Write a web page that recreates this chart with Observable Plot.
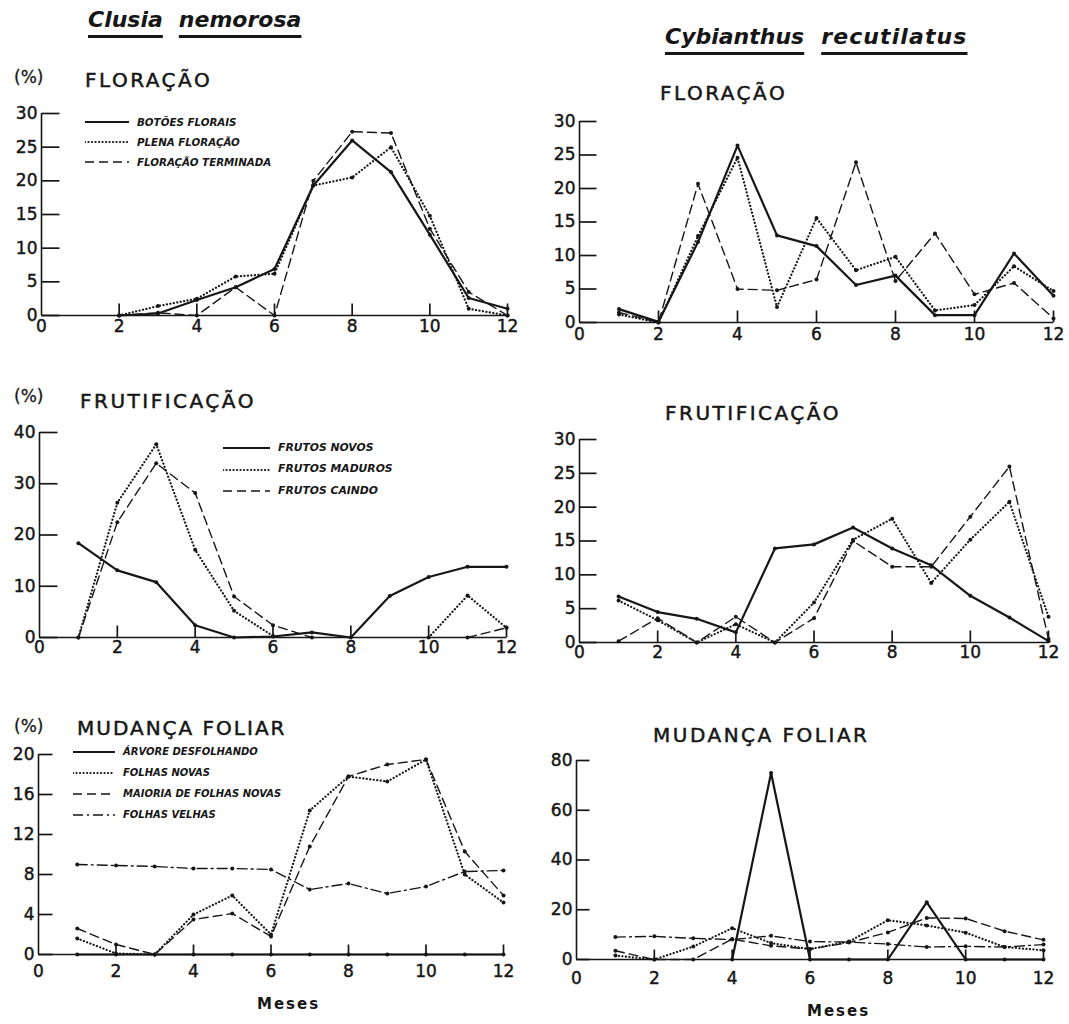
<!DOCTYPE html>
<html><head><meta charset="utf-8">
<script src="https://cdn.jsdelivr.net/npm/d3@7"></script>
<script src="https://cdn.jsdelivr.net/npm/@observablehq/plot@0.6"></script>
<style>
body{margin:0;background:#fff;}
#root{position:relative;width:1069px;height:1024px;overflow:hidden;font-family:"DejaVu Sans",sans-serif;color:#161616;}
.abs{position:absolute;white-space:nowrap;line-height:1;}
.species{font-weight:bold;font-style:italic;font-size:22px;}
.species span{text-decoration:underline;text-decoration-thickness:3px;text-underline-offset:8px;display:inline-block;}
.ptitle{font-size:20px;letter-spacing:2.5px;-webkit-text-stroke:0.5px #161616;}
.pct{font-size:17px;-webkit-text-stroke:0.3px #161616;}
.leg{font-weight:bold;font-style:italic;font-size:10px;}
.meses{font-weight:bold;font-size:15px;letter-spacing:2px;}
svg text{stroke:#161616;stroke-width:0.45px;}
</style></head><body><div id="root"></div>
<script>
// ---------- data ----------
const months = [1,2,3,4,5,6,7,8,9,10,11,12];
const xTickLabels = [0,2,4,6,8,10,12];
const xTickMarks = [2,4,6,8,10,12];

// Clusia nemorosa — Floração
const clFlorBotoes    = [null, 0, 0.3, 2.3, 4.2, 6.9, 19.3, 26.0, 21.3, 12.0, 2.6, 1.0];
const clFlorPlena     = [null, 0, 1.4, 2.5, 5.8, 6.2, 19.3, 20.5, 25.0, 14.8, 1.0, 0];
const clFlorTerminada = [null, 0, 0.4, 0, 4.2, 0, 20.0, 27.3, 27.1, 12.9, 3.5, 0];
// Cybianthus recutilatus — Floração
const cyFlorBotoes    = [2.0, 0.1, 12.0, 26.4, 13.0, 11.4, 5.6, 7.0, 1.1, 1.1, 10.3, 4.0];
const cyFlorPlena     = [1.2, 0, 12.9, 24.6, 2.3, 15.6, 7.8, 9.8, 1.8, 2.6, 8.4, 4.7];
const cyFlorTerminada = [1.5, 0, 20.7, 5.0, 4.8, 6.4, 23.9, 6.2, 13.3, 4.2, 5.9, 0.6];
// Clusia — Frutificação
const clFrutNovos    = [18.4, 13.1, 10.8, 2.4, 0, 0.2, 1.0, 0, 8.1, 11.8, 13.8, 13.8];
const clFrutMaduros  = [0, 26.3, 37.7, 17.1, 5.2, 0.3, null, null, null, 0, 8.2, 1.9];
const clFrutCaindo   = [0, 22.5, 34.0, 28.2, 8.0, 2.4, 0, null, null, null, 0, 1.9];
// Cybianthus — Frutificação
const cyFrutNovos    = [6.8, 4.5, 3.5, 1.5, 13.9, 14.5, 17.0, 13.9, 11.4, 6.9, 3.7, 0.2];
const cyFrutMaduros  = [6.2, 3.3, 0, 2.7, 0, 5.9, 15.2, 18.3, 8.8, 15.2, 20.8, 3.8];
const cyFrutCaindo   = [0.2, 3.6, 0, 3.8, 0, 3.6, 15.0, 11.2, 11.2, 18.6, 26.0, 0.5];
// Clusia — Mudança foliar
const clFolDesfol  = [0, 0, 0, 0, 0, 0, 0, 0, 0, 0, 0, 0];
const clFolNovas   = [1.6, 0.1, 0, 4.0, 5.9, 2.0, 14.4, 17.8, 17.3, 19.5, 8.0, 5.2];
const clFolMaioria = [2.6, 1.0, 0, 3.5, 4.1, 1.8, 10.8, 17.8, 19.0, 19.5, 10.3, 5.9];
const clFolVelhas  = [9.0, 8.9, 8.8, 8.6, 8.6, 8.5, 6.5, 7.1, 6.1, 6.8, 8.3, 8.4];
// Cybianthus — Mudança foliar
const cyFolDesfol  = [null, null, null, 0, 75, 0, 0, 0, 23, 0, 0, 0];
const cyFolNovas   = [1.6, 0, 5.2, 12.6, 6.6, 4.2, 7.2, 15.8, 13.7, 10.8, 5.0, 3.7];
const cyFolMaioria = [3.5, 0, 0, 8.2, 5.5, 4.2, 6.8, 10.9, 16.7, 16.5, 11.4, 7.9];
const cyFolVelhas  = [9.0, 9.3, 8.5, 8.0, 9.5, 7.2, 7.0, 6.2, 5.0, 5.3, 5.0, 6.0];

// tick values
const yTicks30 = [0,5,10,15,20,25,30];
const yTicks40 = [0,10,20,30,40];
const yTicks20 = [0,4,8,12,16,20];
const yTicks80 = [0,20,40,60,80];

// legend labels
const legFlor = ["BOTÕES FLORAIS","PLENA FLORAÇÃO","FLORAÇÃO TERMINADA"];
const legFrut = ["FRUTOS NOVOS","FRUTOS MADUROS","FRUTOS CAINDO"];
const legFol  = ["ÁRVORE DESFOLHANDO","FOLHAS NOVAS","MAIORIA DE FOLHAS NOVAS","FOLHAS VELHAS"];

// ---------- styles ----------
const INK = "#161616";
const styles = {
  solid:   {strokeWidth: 2.2, strokeDasharray: null},
  dotted:  {strokeWidth: 2.2, strokeDasharray: "0.1,3.4", strokeLinecap: "round"},
  dashed:  {strokeWidth: 1.4, strokeDasharray: "9,5"},
  dashdot: {strokeWidth: 1.4, strokeDasharray: "10,4,2,4"}
};

const root = document.getElementById("root");
function addText(cls, html, left, top, extra = "") {
  const d = document.createElement("div");
  d.className = "abs " + cls;
  d.innerHTML = html;
  d.style.cssText += `left:${left}px;top:${top}px;${extra}`;
  root.appendChild(d);
  return d;
}

function panel({x0, x12, y0, yTop, yMax, yTicks, series, labelGap, ySize = 14, xSize = 10}) {
  const mL = 50, mR = 15, mT = 10, mB = 40;
  const width = (x12 - x0) + mL + mR;
  const height = (y0 - yTop) + mT + mB;
  // inward tick lengths expressed in scale units (pixel length / pixels-per-unit)
  const yTickLen = ySize * 12 / (x12 - x0);
  const xTickLen = xSize * yMax / (y0 - yTop);
  const yTickData = yTicks.map(v => ({v, a: 0, b: yTickLen}));
  const xTickData = xTickMarks.map(v => ({v, a: 0, b: xTickLen}));
  const marks = [
    Plot.ruleX([0], {y1: 0, y2: yMax, stroke: INK, strokeWidth: 1.6}),
    Plot.ruleY([0], {x1: 0, x2: 12, stroke: INK, strokeWidth: 1.6}),
    Plot.link(yTickData, {x1: "a", x2: "b", y1: "v", y2: "v", stroke: INK, strokeWidth: 1.7}),
    Plot.link(xTickData, {x1: "v", x2: "v", y1: "a", y2: "b", stroke: INK, strokeWidth: 1.7}),
    Plot.axisY({ticks: yTicks, tickSize: 0, tickPadding: 4, fill: INK, label: null, fontSize: 17}),
    Plot.axisX({ticks: xTickLabels, tickSize: 0, tickPadding: labelGap, fill: INK, label: null, fontSize: 17})
  ];
  for (const s of series) {
    const data = s.values.map((v, i) => ({month: months[i], value: v}));
    marks.push(Plot.line(data, {x: "month", y: "value", stroke: INK, ...styles[s.style]}));
    marks.push(Plot.dot(data, {x: "month", y: "value", r: 2, fill: INK, stroke: null}));
  }
  const svg = Plot.plot({
    width, height, marginLeft: mL, marginRight: mR, marginTop: mT, marginBottom: mB,
    x: {domain: [0, 12], axis: null},
    y: {domain: [0, yMax], axis: null},
    style: {fontFamily: "DejaVu Sans, sans-serif", fontSize: "17px", background: "transparent", overflow: "visible"},
    marks
  });
  svg.style.position = "absolute";
  svg.style.left = (x0 - mL) + "px";
  svg.style.top = (yTop - mT) + "px";
  root.appendChild(svg);
}

function legend(labels, styleKeys, left, top, rowH, lineW, fontSize) {
  labels.forEach((lab, i) => {
    const row = document.createElement("div");
    row.className = "abs leg";
    row.style.left = left + "px";
    row.style.top = (top + i * rowH - 6) + "px";
    row.style.fontSize = fontSize + "px";
    row.style.display = "flex";
    row.style.alignItems = "center";
    const s = d3.create("svg").attr("width", lineW + 8).attr("height", 12);
    const st = styles[styleKeys[i]];
    s.append("line").attr("x1", 0).attr("x2", lineW).attr("y1", 6).attr("y2", 6)
      .attr("stroke", INK).attr("stroke-width", st.strokeWidth)
      .attr("stroke-dasharray", st.strokeDasharray)
      .attr("stroke-linecap", st.strokeLinecap || null);
    row.appendChild(s.node());
    const t = document.createElement("span");
    t.textContent = lab;
    row.appendChild(t);
    root.appendChild(row);
  });
}

// ---------- headers ----------
addText("species", "<span>Clusia</span><span style='margin-left:16px'>nemorosa</span>", 88, 9);
addText("species", "<span>Cybianthus</span><span style='margin-left:17px;letter-spacing:1.1px'>recutilatus</span>", 665, 26);

addText("pct", "(%)", 14, 69);
addText("ptitle", "FLORAÇÃO", 85, 70);
addText("ptitle", "FLORAÇÃO", 660, 83);
addText("pct", "(%)", 14, 388);
addText("ptitle", "FRUTIFICAÇÃO", 80, 391);
addText("ptitle", "FRUTIFICAÇÃO", 665, 403);
addText("pct", "(%)", 14, 718);
addText("ptitle", "MUDANÇA FOLIAR", 77, 718, "letter-spacing:2px;");
addText("ptitle", "MUDANÇA FOLIAR", 653, 725);

// ---------- panels ----------
panel({x0: 41, x12: 507, y0: 315, yTop: 113, yMax: 30, yTicks: yTicks30, labelGap: 4, ySize: 18, xSize: 12,
  series: [{values: clFlorBotoes, style: "solid"}, {values: clFlorPlena, style: "dotted"}, {values: clFlorTerminada, style: "dashed"}]});
panel({x0: 579, x12: 1053, y0: 322, yTop: 121, yMax: 30, yTicks: yTicks30, labelGap: 5, ySize: 17, xSize: 12,
  series: [{values: cyFlorBotoes, style: "solid"}, {values: cyFlorPlena, style: "dotted"}, {values: cyFlorTerminada, style: "dashed"}]});
panel({x0: 39, x12: 506, y0: 637, yTop: 432, yMax: 40, yTicks: yTicks40, labelGap: 3, ySize: 18, xSize: 12,
  series: [{values: clFrutNovos, style: "solid"}, {values: clFrutMaduros, style: "dotted"}, {values: clFrutCaindo, style: "dashed"}]});
panel({x0: 579, x12: 1048, y0: 642, yTop: 439, yMax: 30, yTicks: yTicks30, labelGap: 3, ySize: 17, xSize: 12,
  series: [{values: cyFrutNovos, style: "solid"}, {values: cyFrutMaduros, style: "dotted"}, {values: cyFrutCaindo, style: "dashed"}]});
panel({x0: 38, x12: 503, y0: 954, yTop: 754, yMax: 20, yTicks: yTicks20, labelGap: 10, ySize: 14, xSize: 10,
  series: [{values: clFolDesfol, style: "solid"}, {values: clFolNovas, style: "dotted"}, {values: clFolMaioria, style: "dashed"}, {values: clFolVelhas, style: "dashdot"}]});
panel({x0: 576, x12: 1043, y0: 959, yTop: 760, yMax: 80, yTicks: yTicks80, labelGap: 12, ySize: 13, xSize: 10,
  series: [{values: cyFolDesfol, style: "solid"}, {values: cyFolNovas, style: "dotted"}, {values: cyFolMaioria, style: "dashed"}, {values: cyFolVelhas, style: "dashdot"}]});

// ---------- legends ----------
legend(legFlor, ["solid","dotted","dashed"], 85, 122, 20, 44, 10.3);
legend(legFrut, ["solid","dotted","dashed"], 223, 448, 21.5, 47, 10.8);
legend(legFol, ["solid","dotted","dashed","dashdot"], 73, 752, 21, 42, 10);

addText("meses", "Meses", 257, 997);
addText("meses", "Meses", 807, 1004);
</script>
</body></html>
